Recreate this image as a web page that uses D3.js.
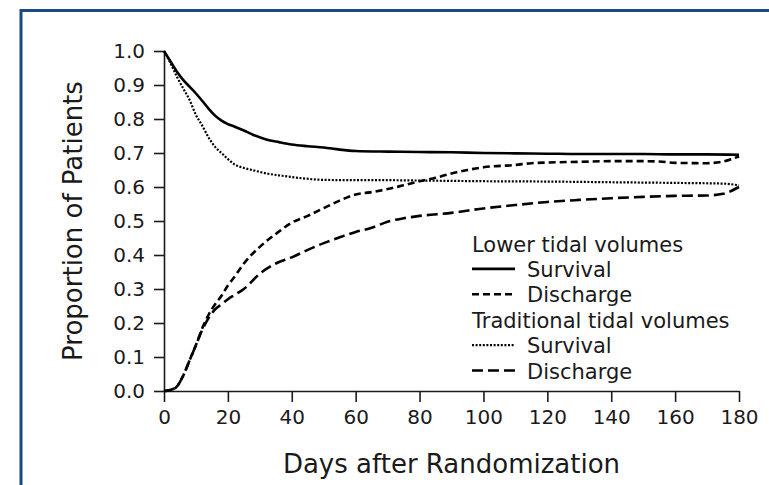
<!DOCTYPE html>
<html>
<head>
<meta charset="utf-8">
<script src="https://cdn.jsdelivr.net/npm/d3@7"></script>
<style>
  html, body { margin: 0; padding: 0; background: #fff; }
  svg { display: block; }
  text { font-family: "DejaVu Sans", sans-serif; fill: #1a1a1a; }
</style>
</head>
<body>
<svg id="chart" width="769" height="485"></svg>
<script>
// ---- Data ----
const lowerSurvivalDays = [0,2,4,6,8,10,12,14,16,18,20,22,25,28,32,36,40,45,50,55,60,70,80,90,100,110,120,130,140,150,160,170,180];
const lowerSurvival     = [1.0,0.97,0.94,0.915,0.895,0.875,0.853,0.83,0.81,0.795,0.785,0.778,0.766,0.753,0.74,0.732,0.725,0.72,0.716,0.71,0.706,0.704,0.703,0.702,0.70,0.699,0.698,0.697,0.697,0.697,0.696,0.696,0.695];

const lowerDischargeDays = [0,2,4,6,8,10,12,14,16,18,20,22,25,30,35,40,45,50,55,60,65,70,75,80,85,90,95,100,110,115,120,130,140,150,155,160,170,175,180];
const lowerDischarge     = [0,0.003,0.013,0.045,0.09,0.135,0.185,0.225,0.255,0.28,0.31,0.335,0.375,0.424,0.462,0.495,0.515,0.538,0.56,0.578,0.585,0.594,0.605,0.617,0.627,0.64,0.65,0.658,0.665,0.67,0.672,0.674,0.676,0.676,0.675,0.671,0.67,0.675,0.69];

const tradSurvivalDays = [0,2,4,6,8,10,12,14,16,18,20,22,25,28,32,37,42,50,60,70,80,90,100,120,140,160,175,180];
const tradSurvival     = [1.0,0.965,0.925,0.89,0.856,0.812,0.78,0.745,0.718,0.7,0.682,0.667,0.656,0.649,0.64,0.633,0.627,0.621,0.62,0.62,0.619,0.618,0.617,0.616,0.614,0.612,0.61,0.605];

const tradDischargeDays = [0,2,4,6,8,10,12,14,16,18,20,22,25,30,35,40,45,50,55,60,65,70,75,80,90,100,110,120,130,140,150,160,170,175,180];
const tradDischarge     = [0,0.003,0.013,0.045,0.09,0.135,0.18,0.215,0.24,0.255,0.27,0.282,0.3,0.345,0.375,0.393,0.415,0.435,0.452,0.468,0.48,0.498,0.508,0.515,0.524,0.537,0.547,0.556,0.562,0.567,0.571,0.574,0.575,0.58,0.6];

const xTicks = [0,20,40,60,80,100,120,140,160,180];
const yTicks = [0,0.1,0.2,0.3,0.4,0.5,0.6,0.7,0.8,0.9,1.0];

const legendGroups = ["Lower tidal volumes", "Traditional tidal volumes"];
const legendItems  = ["Survival", "Discharge"];

const xTitle = "Days after Randomization";
const yTitle = "Proportion of Patients";

// ---- Build ----
const svg = d3.select("#chart");

// frame (top and left border)
svg.append("path")
  .attr("d", "M21,485 L21,10.5 L769,10.5")
  .attr("fill", "none")
  .attr("stroke", "#1b4a80")
  .attr("stroke-width", 3);

const x = d3.scaleLinear().domain([0, 180]).range([164, 739]);
const y = d3.scaleLinear().domain([0, 1]).range([391, 51]);

const axisColor = "#1a1a1a";

const gx = svg.append("g")
  .attr("transform", "translate(0,391)")
  .call(d3.axisBottom(x).tickValues(xTicks).tickSize(11).tickSizeOuter(0).tickPadding(8).tickFormat(d3.format("d")));
const gy = svg.append("g")
  .attr("transform", "translate(164,0)")
  .call(d3.axisLeft(y).tickValues(yTicks).tickSize(10).tickSizeOuter(0).tickPadding(9).tickFormat(d3.format(".1f")));

[gx, gy].forEach(g => {
  g.select(".domain").attr("stroke", axisColor).attr("stroke-width", 1.6);
  g.selectAll(".tick line").attr("stroke", axisColor).attr("stroke-width", 1.6);
  g.selectAll(".tick text")
    .attr("fill", "#1a1a1a")
    .style("font-family", "'DejaVu Sans', sans-serif")
    .style("font-size", "20px");
});

// axis titles
svg.append("text")
  .attr("x", (x.range()[0] + x.range()[1]) / 2)
  .attr("y", 473)
  .attr("text-anchor", "middle")
  .style("font-size", "26px")
  .text(xTitle);

svg.append("text")
  .attr("transform", `translate(82,${(y.range()[0] + y.range()[1]) / 2}) rotate(-90)`)
  .attr("text-anchor", "middle")
  .style("font-size", "26px")
  .text(yTitle);

// series
const series = [
  { days: lowerSurvivalDays, vals: lowerSurvival, dash: null, width: 2.6 },
  { days: lowerDischargeDays, vals: lowerDischarge, dash: "7,4", width: 2.6 },
  { days: tradSurvivalDays, vals: tradSurvival, dash: "2,1.6", width: 2.2 },
  { days: tradDischargeDays, vals: tradDischarge, dash: "11,5", width: 2.6 }
];

const line = d3.line()
  .x(d => x(d[0]))
  .y(d => y(d[1]))
  .curve(d3.curveMonotoneX);

series.forEach(s => {
  svg.append("path")
    .datum(s.days.map((d, i) => [d, s.vals[i]]))
    .attr("d", line)
    .attr("fill", "none")
    .attr("stroke", "#000")
    .attr("stroke-width", s.width)
    .attr("stroke-dasharray", s.dash);
});

// legend
const lx = 472, rowH = 25.4, baseY = 251.5;
const rows = [
  { type: "head", text: legendGroups[0] },
  { type: "item", text: legendItems[0], s: series[0] },
  { type: "item", text: legendItems[1], s: series[1] },
  { type: "head", text: legendGroups[1] },
  { type: "item", text: legendItems[0], s: series[2] },
  { type: "item", text: legendItems[1], s: series[3] }
];
rows.forEach((r, i) => {
  const by = baseY + i * rowH;
  if (r.type === "head") {
    svg.append("text").attr("x", lx).attr("y", by).style("font-size", "21px").text(r.text);
  } else {
    svg.append("line")
      .attr("x1", lx).attr("x2", lx + 43)
      .attr("y1", by - 8).attr("y2", by - 8)
      .attr("stroke", "#000")
      .attr("stroke-width", r.s.width)
      .attr("stroke-dasharray", r.s.dash);
    svg.append("text").attr("x", lx + 55).attr("y", by).style("font-size", "21px").text(r.text);
  }
});
</script>
</body>
</html>
